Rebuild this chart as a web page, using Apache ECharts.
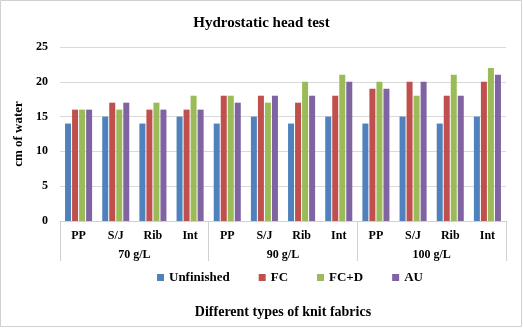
<!DOCTYPE html>
<html><head><meta charset="utf-8">
<script src="https://cdn.jsdelivr.net/npm/echarts@6/dist/echarts.min.js"></script>
<style>html,body{margin:0;padding:0;background:#fff}#c{width:523px;height:328px}</style>
</head><body><div id="c"></div>
<script>
const categories = ['PP','S/J','Rib','Int','PP','S/J','Rib','Int','PP','S/J','Rib','Int'];
const groups = ['70 g/L','90 g/L','100 g/L'];
const unfinished = [14,15,14,15, 14,15,14,15, 14,15,14,15];
const fc         = [16,17,16,16, 18,18,17,18, 19,20,18,20];
const fcd        = [16,16,17,18, 18,17,20,21, 20,18,21,22];
const au         = [16,17,16,16, 17,18,18,20, 19,20,18,21];
const yTicks = [0,5,10,15,20,25];

const F = 'Liberation Serif';
const chart = echarts.init(document.getElementById('c'));
const mk = (name, data, color) => ({
  name, type:'bar', data, barWidth:6, barGap:'17%',
  itemStyle:{color}, xAxisIndex:0
});
chart.setOption({
  animation:false,
  textStyle:{fontFamily:F},
  graphic:[{type:'rect',shape:{x:0.5,y:0.5,width:521,height:326},style:{fill:'none',stroke:'#d0d0d0',lineWidth:1}}],
  title:{text:'Hydrostatic head test',left:'center',top:11,
    textStyle:{fontFamily:F,fontSize:15,fontWeight:'bold',color:'#000'}},
  legend:{bottom:39,left:152,itemWidth:7,itemHeight:7,itemGap:29,icon:'rect',
    textStyle:{fontFamily:F,fontSize:13,fontWeight:'bold',color:'#000'},
    data:['Unfinished','FC','FC+D','AU']},
  grid:{left:60,right:17,top:47,bottom:107},
  xAxis:[{
    type:'category',data:categories,position:'bottom',
    axisLine:{lineStyle:{color:'#d0d0d0'}},axisTick:{show:false},
    axisLabel:{interval:0,margin:9,fontFamily:F,fontSize:12,fontWeight:'bold',color:'#000'}
  },{
    type:'category',data:groups,position:'bottom',
    name:'Different types of knit fabrics',nameLocation:'middle',nameGap:84,
    nameTextStyle:{fontFamily:F,fontSize:14,fontWeight:'bold',color:'#000'},
    axisLine:{show:false},
    axisTick:{show:true,length:40,lineStyle:{color:'#d0d0d0'}},
    axisLabel:{interval:0,margin:28,fontFamily:F,fontSize:12,fontWeight:'bold',color:'#000'}
  }],
  yAxis:{type:'value',min:0,max:25,interval:5,
    name:'cm of water',nameLocation:'middle',nameGap:34,
    nameTextStyle:{fontFamily:F,fontSize:13,fontWeight:'bold',color:'#000'},
    axisLine:{show:false},axisTick:{show:false},
    axisLabel:{fontFamily:F,fontSize:12,fontWeight:'bold',color:'#000',margin:12,
      formatter:v=>yTicks.includes(v)?String(v):''},
    splitLine:{lineStyle:{color:'#d9d9d9'}}},
  series:[
    mk('Unfinished',unfinished,'#4F81BD'),
    mk('FC',fc,'#C0504D'),
    mk('FC+D',fcd,'#9BBB59'),
    mk('AU',au,'#8064A2')
  ]
});
</script></body></html>
